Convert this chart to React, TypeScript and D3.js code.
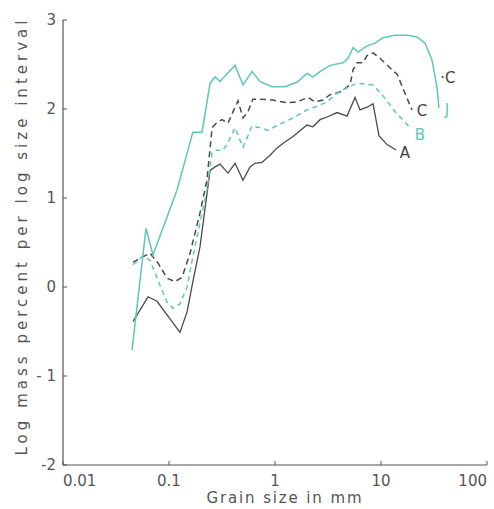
import React from "react";
import * as d3 from "d3";

// Grain size (mm) and log mass percent per log size interval
const seriesA: [number, number][] = [
  [0.0457, -0.39], [0.0634, -0.11], [0.0771, -0.16], [0.127, -0.51], [0.148, -0.28],
  [0.168, 0.06], [0.196, 0.45], [0.244, 1.31], [0.272, 1.35], [0.303, 1.38],
  [0.36, 1.28], [0.42, 1.39], [0.499, 1.2], [0.581, 1.35], [0.647, 1.39],
  [0.753, 1.4], [0.897, 1.48], [1.04, 1.56], [1.24, 1.63], [1.48, 1.69],
  [2.0, 1.82], [2.28, 1.8], [2.66, 1.88], [3.1, 1.91], [3.85, 1.96],
  [4.78, 1.92], [5.69, 2.13], [6.34, 1.99], [7.38, 2.02], [8.41, 2.06],
  [9.57, 1.7], [11.4, 1.6], [13.9, 1.54],
];
const seriesB: [number, number][] = [
  [0.0457, 0.25], [0.0569, 0.35], [0.0662, 0.3], [0.0822, 0.02], [0.0957, -0.17],
  [0.109, -0.24], [0.127, -0.19], [0.148, 0.0], [0.168, 0.34], [0.196, 0.72],
  [0.228, 1.09], [0.255, 1.51], [0.284, 1.54], [0.316, 1.53], [0.352, 1.6],
  [0.376, 1.67], [0.42, 1.79], [0.468, 1.65], [0.499, 1.57], [0.556, 1.7],
  [0.607, 1.81], [0.721, 1.79], [0.859, 1.76], [1.11, 1.83], [1.48, 1.9],
  [2.0, 1.99], [2.49, 2.03], [3.1, 2.08], [3.85, 2.18], [4.78, 2.24],
  [5.94, 2.29], [7.06, 2.28], [8.41, 2.27], [10.4, 2.15], [13.6, 1.97], [18.8, 1.79],
];
const seriesC: [number, number][] = [
  [0.0457, 0.28], [0.0662, 0.38], [0.0787, 0.27], [0.0957, 0.1], [0.114, 0.06],
  [0.133, 0.11], [0.158, 0.38], [0.196, 0.83], [0.228, 1.2], [0.255, 1.79],
  [0.284, 1.85], [0.316, 1.88], [0.36, 1.84], [0.402, 1.97], [0.448, 2.09],
  [0.499, 1.9], [0.556, 1.97], [0.619, 2.11], [0.721, 2.11], [0.957, 2.1],
  [1.3, 2.07], [1.61, 2.08], [2.05, 2.13], [2.38, 2.08], [2.84, 2.1],
  [3.3, 2.16], [4.1, 2.19], [5.1, 2.27], [5.45, 2.44], [5.94, 2.52],
  [6.76, 2.52], [7.38, 2.6], [8.41, 2.63], [9.79, 2.57], [12.2, 2.46],
  [14.2, 2.39], [16.8, 2.18], [19.6, 1.99],
];
const seriesJ: [number, number][] = [
  [0.0448, -0.71], [0.0607, 0.66], [0.0706, 0.36], [0.119, 1.09], [0.168, 1.74],
  [0.205, 1.74], [0.244, 2.29], [0.272, 2.36], [0.303, 2.31], [0.337, 2.37],
  [0.42, 2.49], [0.499, 2.27], [0.607, 2.42], [0.721, 2.31], [0.937, 2.25],
  [1.24, 2.25], [1.61, 2.3], [2.0, 2.4], [2.28, 2.36], [2.66, 2.42],
  [3.3, 2.49], [4.38, 2.52], [4.89, 2.57], [5.45, 2.69], [6.07, 2.64],
  [7.38, 2.71], [8.78, 2.74], [10.4, 2.8], [13.6, 2.83], [17.6, 2.83],
  [21.9, 2.81], [26.0, 2.74], [30.3, 2.55], [33.7, 2.25], [35.2, 2.01],
];

const xTicks = [0.01, 0.1, 1, 10, 100];
const xTickLabels = ["0.01", "0.1", "1", "10", "100"];
const yTicks = [-2, -1, 0, 1, 2, 3];
const yTickLabels = ["-2", "- 1", "0", "1", "2", "3"];

const curveLabels: { text: string; x: number; y: number; color: string }[] = [
  { text: "A", x: 16.8, y: 1.51, color: "#444" },
  { text: "B", x: 23.3, y: 1.71, color: "#5ec6bd" },
  { text: "C", x: 24.4, y: 1.98, color: "#444" },
  { text: "J", x: 42.0, y: 1.99, color: "#5ec6bd" },
  { text: "·C", x: 42.7, y: 2.35, color: "#444" },
];

export default function App() {
  const W = 494, H = 509;
  const x = d3.scaleLog().domain([0.01, 100]).range([63, 487]);
  const y = d3.scaleLinear().domain([-2, 3]).range([465, 20]);
  const line = d3.line<[number, number]>().x((d) => x(d[0])).y((d) => y(d[1]));
  const font = "'DejaVu Sans', sans-serif";
  const axisColor = "#555";
  const teal = "#5ec6bd";
  const dark = "#4a4a4a";

  return (
    <svg width={W} height={H} style={{ position: "absolute", left: 0, top: 0, background: "#fff" }} fontFamily={font}>
      {/* axes */}
      <line x1={x(0.01)} x2={x(0.01)} y1={y(3)} y2={y(-2)} stroke={axisColor} strokeWidth={1.2} />
      <line x1={x(0.01)} x2={x(100)} y1={y(-2)} y2={y(-2)} stroke={axisColor} strokeWidth={1.2} />
      {yTicks.map((t, i) => (
        <g key={"yt" + t}>
          <line x1={x(0.01)} x2={x(0.01) + 4} y1={y(t)} y2={y(t)} stroke={axisColor} strokeWidth={1} />
          <text x={56} y={y(t)} dy="0.35em" textAnchor="end" fontSize={15} fill="#555">{yTickLabels[i]}</text>
        </g>
      ))}
      {xTicks.map((t, i) => (
        <g key={"xt" + t}>
          <line x1={x(t)} x2={x(t)} y1={y(-2)} y2={y(-2) - 4} stroke={axisColor} strokeWidth={1} />
          <text
            x={x(t)}
            y={486}
            textAnchor={i === 0 ? "start" : i === xTicks.length - 1 ? "end" : "middle"}
            fontSize={15}
            fill="#555"
          >
            {xTickLabels[i]}
          </text>
        </g>
      ))}
      <text x={284} y={503} textAnchor="middle" fontSize={15} fill="#555" textLength={155} lengthAdjust="spacing">Grain size in mm</text>
      <text
        transform={`translate(27,${238}) rotate(-90)`}
        textAnchor="middle"
        fontSize={15}
        fill="#555"
        textLength={435}
        lengthAdjust="spacing"
      >
        Log mass percent per log size interval
      </text>

      {/* curves */}
      <path d={line(seriesA) || ""} fill="none" stroke={dark} strokeWidth={1.3} />
      <path d={line(seriesC) || ""} fill="none" stroke={dark} strokeWidth={1.5} strokeDasharray="6,4" />
      <path d={line(seriesB) || ""} fill="none" stroke={teal} strokeWidth={1.5} strokeDasharray="5,4" />
      <path d={line(seriesJ) || ""} fill="none" stroke={teal} strokeWidth={1.5} />

      {curveLabels.map((l) => (
        <text key={l.text} x={x(l.x)} y={y(l.y)} dy="0.35em" textAnchor="middle" fontSize={15} fill={l.color}>
          {l.text}
        </text>
      ))}
    </svg>
  );
}
